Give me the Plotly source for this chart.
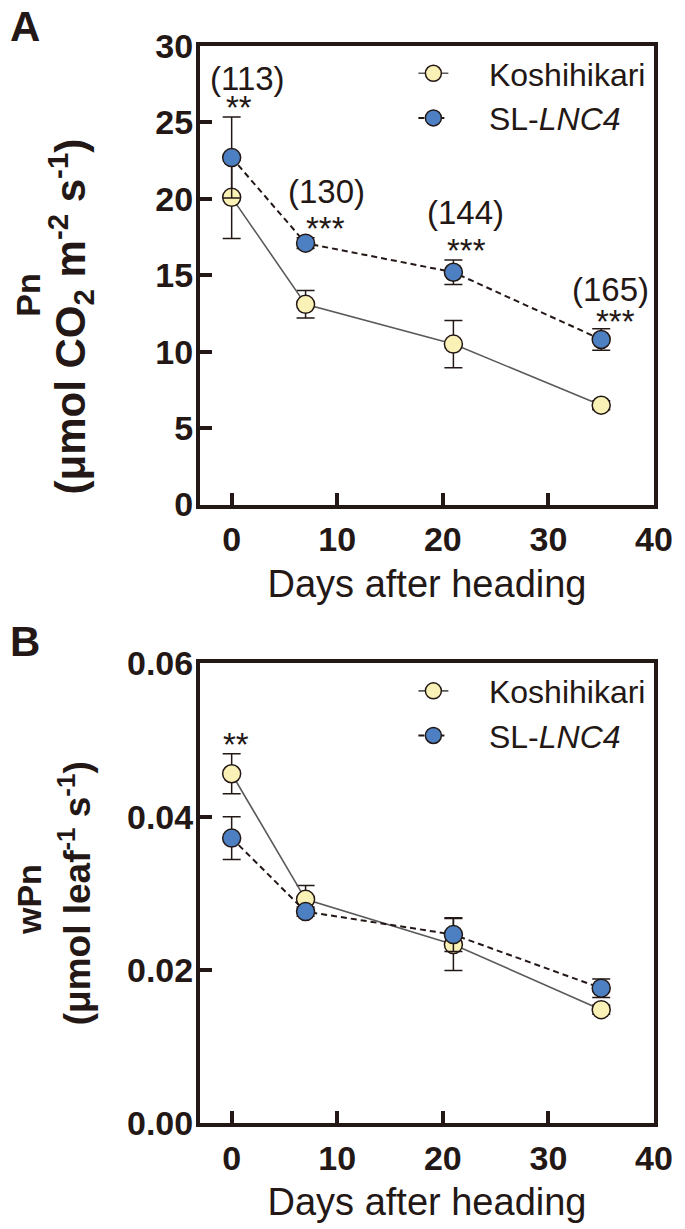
import plotly.graph_objects as go

# ---------------- data ----------------
days = [0, 7, 21, 35]

# Panel A: Pn (umol CO2 m-2 s-1), mean and SE
pn_kos = [20.1, 13.1, 10.5, 6.5]
pn_kos_se = [2.7, 0.9, 1.55, 0.3]
pn_sl = [22.7, 17.1, 15.2, 10.8]
pn_sl_se = [2.65, 0.35, 0.8, 0.7]
pn_ratio = ["(113)", "(130)", "(144)", "(165)"]
pn_sig = ["**", "***", "***", "***"]

# Panel B: wPn (umol leaf-1 s-1), mean and SE
wpn_kos = [0.0456, 0.0292, 0.0233, 0.0148]
wpn_kos_se = [0.0026, 0.0018, 0.0034, 0.0006]
wpn_sl = [0.0372, 0.0276, 0.0246, 0.0176]
wpn_sl_se = [0.0028, 0.0006, 0.0022, 0.0012]
wpn_sig = ["**", "", "", ""]

x_ticks = [0, 10, 20, 30, 40]
pn_ticks = [0, 5, 10, 15, 20, 25, 30]
wpn_ticks = [0, 0.02, 0.04, 0.06]

# ---------------- style ----------------
FONT = "Liberation Sans, Arial, sans-serif"
INK = "#231815"
YELLOW = "#FAF1B6"
BLUE = "#4D80C2"
GREY = "#5a5a5a"

fig = go.Figure()


def add_panel(y_k, se_k, y_s, se_s, xa, ya, leg):
    fig.add_trace(go.Scatter(
        x=days, y=y_k, name="    Koshihikari", mode="lines+markers",
        line=dict(color=GREY, width=1.6),
        marker=dict(size=18, color=YELLOW, line=dict(color=INK, width=1.5)),
        error_y=dict(type="data", array=se_k, color=INK, thickness=1.5, width=9),
        xaxis=xa, yaxis=ya, legend=leg,
    ))
    fig.add_trace(go.Scatter(
        x=days, y=y_s, name="    SL-<i>LNC4</i>", mode="lines+markers",
        line=dict(color=INK, width=2, dash="6px,4px"),
        marker=dict(size=18, color=BLUE, line=dict(color=INK, width=1.5)),
        error_y=dict(type="data", array=se_s, color=INK, thickness=1.5, width=9),
        xaxis=xa, yaxis=ya, legend=leg,
    ))


add_panel(pn_kos, pn_kos_se, pn_sl, pn_sl_se, "x", "y", "legend")
add_panel(wpn_kos, wpn_kos_se, wpn_sl, wpn_sl_se, "x2", "y2", "legend2")

# ---------------- annotations ----------------
ann = []
txt_font = dict(family=FONT, size=33, color=INK)

# ratio labels and stars above the SL-LNC4 points (panel A)
ratio_pos = [(1.5, 27.9), (8.95, 20.5), (22.1, 19.1), (35.9, 14.1)]
star_pos = [(0.7, 25.95), (8.9, 18.05), (22.2, 16.65), (36.4, 11.95)]
for t, (px, py) in zip(pn_ratio, ratio_pos):
    ann.append(dict(x=px, y=py, xref="x", yref="y", text=t, showarrow=False,
                    font=txt_font, xanchor="center", yanchor="middle"))
for t, (px, py) in zip(pn_sig, star_pos):
    ann.append(dict(x=px, y=py, xref="x", yref="y", text=t, showarrow=False,
                    font=txt_font, xanchor="center", yanchor="middle"))
for t, d in zip(wpn_sig, days):
    if t:
        ann.append(dict(x=d + 0.4, y=0.0494, xref="x2", yref="y2", text=t,
                        showarrow=False, font=txt_font,
                        xanchor="center", yanchor="middle"))

# panel letters
for letter, py in [("A", 1.0415), ("B", 0.4710)]:
    ann.append(dict(x=-0.385, y=py, xref="paper", yref="paper",
                    text="<b>%s</b>" % letter, showarrow=False,
                    font=dict(family=FONT, size=42, color=INK),
                    xanchor="center", yanchor="top"))

# y-axis titles (two lines each)
ytitles = [
    ("<b>Pn</b>", -0.378, 0.7685, 34),
    ("<b>(\u03bcmol CO<sub>2</sub> m<sup>-2</sup> s<sup>-1</sup>)</b>", -0.286, 0.749, 42),
    ("<b>wPn</b>", -0.378, 0.2074, 34),
    ("<b>(\u03bcmol leaf<sup>-1</sup> s<sup>-1</sup>)</b>", -0.274, 0.2129, 37),
]
for t, px, py, sz in ytitles:
    ann.append(dict(x=px, y=py, xref="paper", yref="paper", text=t,
                    showarrow=False, textangle=-90,
                    font=dict(family=FONT, size=sz, color=INK),
                    xanchor="center", yanchor="middle"))

# ---------------- axes ----------------
axis_common = dict(
    showline=True, linecolor=INK, linewidth=4, mirror=True,
    showgrid=False, zeroline=False,
    ticks="inside", ticklen=12, tickwidth=4, tickcolor=INK,
    tickfont=dict(family=FONT, size=34, color=INK, weight="bold"),
)
xtitle = dict(text="Days after heading", font=dict(family=FONT, size=38, color=INK), standoff=14)

legend_common = dict(
    xanchor="left", yanchor="top", bgcolor="rgba(0,0,0,0)",
    font=dict(family=FONT, size=32, color=INK), tracegroupgap=0,
)

fig.update_layout(
    width=685, height=1229,
    margin=dict(l=200, r=23, t=46, b=98),
    plot_bgcolor="white", paper_bgcolor="white",
    showlegend=True,
    xaxis=dict(axis_common, domain=[0, 1], anchor="y", range=[-3, 40],
               tickvals=x_ticks, ticklabelstandoff=2, title=xtitle),
    yaxis=dict(axis_common, domain=[0.5742, 1], anchor="x", range=[0, 30],
               tickvals=pn_ticks, ticklabelstandoff=-4),
    xaxis2=dict(axis_common, domain=[0, 1], anchor="y2", range=[-3, 40],
                tickvals=x_ticks, ticklabelstandoff=2, title=xtitle),
    yaxis2=dict(axis_common, domain=[0, 0.4267], anchor="x2", range=[0, 0.06],
                tickvals=wpn_ticks, tickformat=".2f", ticklabelstandoff=-4),
    legend=dict(legend_common, x=0.47, y=1.0),
    legend2=dict(legend_common, x=0.47, y=0.4266),
    annotations=ann,
)

# drop the default 8px body margin so the figure fills the window
fig.write_html("out.html", config={"displayModeBar": False},
               post_script="document.body.style.margin='0';")
